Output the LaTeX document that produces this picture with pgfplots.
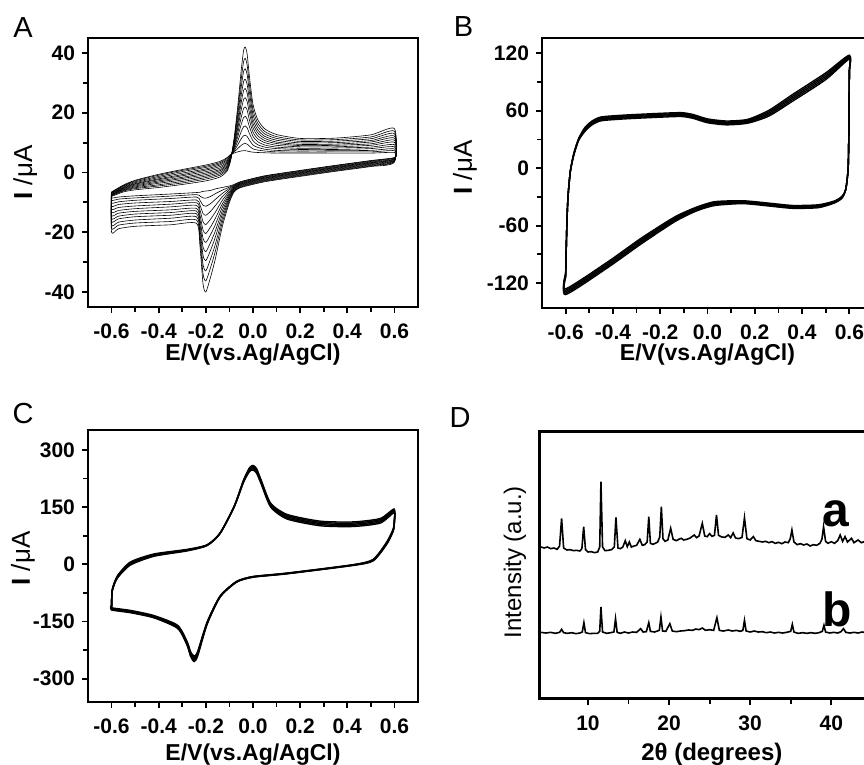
\documentclass[border=0pt]{standalone}
\usepackage{pgfplots}
\pgfplotsset{compat=1.18}
\usepackage{pgfplotstable}
\usepackage{fontspec}
\setmainfont{Liberation Sans}

% panel A: 12 successive cycles (columns c0..c11), forward then reverse scan
\pgfplotstableread{
E c0 c1 c2 c3 c4 c5 c6 c7 c8 c9 c10 c11
-0.600 -6.5 -6.6 -6.7 -6.9 -7.0 -7.1 -7.3 -7.4 -7.5 -7.7 -7.8 -8.0
-0.550 -4.2 -4.4 -4.5 -4.8 -5.0 -5.2 -5.4 -5.6 -5.8 -6.0 -6.2 -6.5
-0.500 -2.6 -2.8 -3.1 -3.4 -3.7 -3.9 -4.2 -4.5 -4.8 -5.1 -5.4 -5.8
-0.400 -0.6 -0.9 -1.3 -1.7 -2.1 -2.4 -2.8 -3.2 -3.6 -4.1 -4.5 -5.0
-0.300 1.0 0.7 0.3 -0.2 -0.7 -1.1 -1.6 -2.0 -2.5 -3.0 -3.5 -4.0
-0.200 2.5 2.1 1.7 1.2 0.8 0.3 -0.2 -0.7 -1.2 -1.7 -2.2 -2.8
-0.140 3.7 3.3 2.9 2.5 2.0 1.5 1.0 0.6 0.1 -0.4 -0.9 -1.5
-0.110 5.0 4.7 4.3 3.9 3.5 3.1 2.7 2.3 1.9 1.4 1.0 0.5
-0.095 6.0 5.9 5.7 5.5 5.3 5.2 5.0 4.8 4.6 4.4 4.2 4.0
-0.080 6.5 6.9 7.3 7.7 8.2 8.6 9.1 9.5 10.0 10.5 11.0 11.5
-0.065 6.9 8.0 9.2 10.5 11.9 13.2 14.6 15.9 17.3 18.8 20.3 21.9
-0.050 7.2 9.1 11.3 13.7 16.1 18.5 21.0 23.4 25.8 28.5 31.2 34.2
-0.040 7.3 9.6 12.3 15.3 18.4 21.4 24.4 27.4 30.4 33.8 37.1 40.8
-0.033 7.3 9.7 12.5 15.6 18.8 21.9 25.0 28.1 31.2 34.7 38.2 42.0
-0.025 7.2 9.5 12.1 15.0 17.9 20.9 23.8 26.7 29.6 32.9 36.1 39.7
-0.015 7.0 8.8 10.8 13.0 15.3 17.5 19.8 22.0 24.3 26.8 29.3 32.0
0.000 6.8 7.9 9.2 10.6 12.1 13.5 15.0 16.4 17.8 19.4 21.0 22.8
0.020 6.7 7.5 8.4 9.3 10.3 11.3 12.3 13.3 14.3 15.4 16.5 17.7
0.050 6.6 7.2 7.8 8.5 9.2 10.0 10.7 11.4 12.1 12.9 13.7 14.6
0.100 6.5 6.9 7.4 8.0 8.5 9.1 9.7 10.2 10.8 11.4 12.0 12.7
0.200 6.5 6.8 7.2 7.7 8.1 8.6 9.0 9.4 9.9 10.4 10.9 11.4
0.350 6.5 6.9 7.3 7.7 8.2 8.6 9.1 9.5 10.0 10.5 11.0 11.5
0.500 6.5 6.9 7.4 8.0 8.5 9.1 9.6 10.2 10.7 11.3 11.9 12.6
0.600 6.7 7.3 7.9 8.6 9.3 10.1 10.8 11.5 12.2 13.0 13.8 14.7
0.600 5.0 4.9 4.8 4.6 4.5 4.4 4.2 4.1 4.0 3.8 3.7 3.5
0.500 4.0 3.9 3.7 3.5 3.3 3.2 3.0 2.8 2.6 2.4 2.2 2.0
0.350 2.4 2.3 2.1 1.9 1.7 1.6 1.4 1.2 1.0 0.8 0.6 0.4
0.200 0.7 0.6 0.4 0.2 0.0 -0.1 -0.3 -0.5 -0.7 -0.9 -1.1 -1.3
0.050 -1.1 -1.2 -1.4 -1.6 -1.8 -1.9 -2.1 -2.3 -2.5 -2.7 -2.9 -3.1
-0.050 -3.0 -3.1 -3.3 -3.5 -3.7 -3.8 -4.0 -4.2 -4.4 -4.6 -4.8 -5.0
-0.080 -4.0 -4.2 -4.4 -4.6 -4.8 -5.1 -5.3 -5.5 -5.7 -6.0 -6.2 -6.5
-0.100 -4.5 -4.9 -5.3 -5.8 -6.3 -6.8 -7.3 -7.8 -8.3 -8.8 -9.4 -10.0
-0.130 -5.0 -5.9 -7.0 -8.1 -9.3 -10.5 -11.6 -12.8 -14.0 -15.3 -16.6 -18.0
-0.160 -5.5 -7.1 -9.0 -11.1 -13.3 -15.4 -17.5 -19.6 -21.7 -24.1 -26.4 -29.0
-0.180 -6.0 -8.0 -10.4 -13.0 -15.6 -18.2 -20.8 -23.4 -26.0 -28.9 -31.8 -35.0
-0.200 -6.2 -8.6 -11.3 -14.3 -17.4 -20.4 -23.4 -26.5 -29.5 -32.9 -36.3 -40.0
-0.212 -6.3 -8.5 -11.0 -13.7 -16.5 -19.3 -22.1 -24.9 -27.7 -30.8 -33.9 -37.3
-0.225 -6.6 -7.9 -9.3 -10.9 -12.5 -14.2 -15.8 -17.4 -19.0 -20.8 -22.6 -24.6
-0.240 -6.7 -7.4 -8.2 -9.2 -10.1 -11.0 -12.0 -12.9 -13.8 -14.8 -15.9 -17.0
-0.350 -7.2 -7.9 -8.7 -9.7 -10.6 -11.5 -12.5 -13.4 -14.3 -15.3 -16.4 -17.5
-0.500 -7.8 -8.5 -9.3 -10.2 -11.2 -12.1 -13.0 -13.9 -14.8 -15.9 -16.9 -18.0
-0.570 -8.2 -8.9 -9.8 -10.7 -11.7 -12.7 -13.6 -14.6 -15.5 -16.6 -17.6 -18.8
-0.600 -8.5 -9.3 -10.2 -11.3 -12.3 -13.3 -14.4 -15.4 -16.4 -17.6 -18.7 -20.0
-0.600 -6.5 -6.6 -6.7 -6.9 -7.0 -7.1 -7.3 -7.4 -7.5 -7.7 -7.8 -8.0
}\tabA

% panel B: five nearly overlapping cycles
\pgfplotstableread{
E c1 c2 c3 c4 c5
-0.600 -114 -113 -112 -111 -110
-0.595 -60 -60 -60 -60 -60
-0.590 -30 -30 -30 -30 -30
-0.580 -3 -3 -3 -3 -3
-0.565 14 14.5 15 15.5 16
-0.545 29 29.5 30 30.5 31
-0.520 38 39 40 41 42
-0.490 45 46 47 48 49
-0.450 49.5 50.5 51.5 52.5 53.5
-0.350 51.5 52.5 53.5 54.5 55.5
-0.200 53.3 54.3 55.3 56.3 57.3
-0.110 54 55 56 57 58
-0.060 52 53 54 55 56
0.000 47.5 48.5 49.5 50.5 51.5
0.080 45.3 46.3 47.3 48.3 49.3
0.170 47 48 49 50 51
0.260 54.5 56 57.5 59 60.5
0.360 70 71.75 73.5 75.25 77
0.500 92.5 94.25 96 97.75 99.5
0.600 114 115 116 117 118
0.600 100 100 100 100 100
0.598 40 40 40 40 40
0.595 0 0 0 0 0
0.585 -22 -22 -22 -22 -22
0.570 -31 -30.5 -30 -29.5 -29
0.540 -36 -35.5 -35 -34.5 -34
0.470 -41.2 -40.45 -39.7 -38.95 -38.2
0.360 -41.9 -41.15 -40.4 -39.65 -38.9
0.260 -39.5 -38.75 -38 -37.25 -36.5
0.150 -37 -36.25 -35.5 -34.75 -34
0.030 -39 -38 -37 -36 -35
-0.050 -45 -44 -43 -42 -41
-0.140 -56.1 -54.85 -53.6 -52.35 -51.1
-0.280 -79 -77.5 -76 -74.5 -73
-0.420 -103.5 -102 -100.5 -99 -97.5
-0.600 -132 -130.5 -129 -127.5 -126
-0.600 -114 -113 -112 -111 -110
}\tabB

% panel C
\pgfplotstableread{
E c1 c2 c3 c4 c5
-0.600 -114 -112.5 -111 -109.5 -108
-0.597 -70 -69 -68 -67 -66
-0.575 -36 -34.5 -33 -31.5 -30
-0.520 -2 0 2 4 6
-0.420 21 22.5 24 25.5 27
-0.280 35 36 37 38 39
-0.195 49 49.5 50 50.5 51
-0.140 80 80.5 81 81.5 82
-0.080 150 150.5 151 151.5 152
-0.040 215 216.5 218 219.5 221
-0.015 243 245.5 248 250.5 253
0.000 247 250 253 256 259
0.015 239 242 245 248 251
0.035 210 212.5 215 217.5 220
0.075 150 152.5 155 157.5 160
0.145 118.5 121.5 124.5 127.5 130.5
0.285 101 104 107 110 113
0.425 99 102 105 108 111
0.540 108 111 114 117 120
0.598 135 137.5 140 142.5 145
0.600 112 113.5 115 116.5 118
0.595 87 88.5 90 91.5 93
0.567 52 53.5 55 56.5 58
0.510 9 10 11 12 13
0.425 -3 -2.5 -2 -1.5 -1
0.145 -25 -24.5 -24 -23.5 -23
0.000 -34 -33.5 -33 -32.5 -32
-0.070 -47 -46.5 -46 -45.5 -45
-0.140 -86.5 -85.75 -85 -84.25 -83.5
-0.195 -158 -156.5 -155 -153.5 -152
-0.235 -241 -238 -235 -232 -229
-0.250 -255 -251.5 -248 -244.5 -241
-0.265 -241 -238 -235 -232 -229
-0.280 -212 -209.5 -207 -204.5 -202
-0.320 -168 -166 -164 -162 -160
-0.420 -140.5 -139 -137.5 -136 -134.5
-0.520 -127 -125.5 -124 -122.5 -121
-0.600 -120 -118.5 -117 -115.5 -114
-0.600 -114 -112.5 -111 -109.5 -108
}\tabC

% panel D: XRD patterns (arbitrary units)
\pgfplotstableread{
t I
4.2 455
4.6 452
5.0 455
5.4 450
5.8 452
6.2 448
6.5 458
6.75 541
7.0 452
7.4 446
7.8 447
8.2 444
8.6 445
9.0 443
9.25 450
9.47 516
9.7 447
10.0 440
10.4 441
10.8 438
11.2 440
11.45 455
11.6 651
11.8 455
12.1 444
12.5 445
12.9 447
13.25 455
13.45 544
13.7 452
14.0 450
14.3 455
14.6 474
14.85 456
15.1 470
15.35 455
15.7 458
16.0 460
16.4 478
16.7 460
17.0 462
17.3 470
17.5 546
17.7 466
18.0 463
18.3 466
18.6 470
18.85 485
19.05 576
19.25 480
19.5 472
19.85 476
20.2 511
20.5 478
20.9 474
21.2 478
21.5 481
21.8 476
22.2 478
22.6 482
23.1 491
23.4 483
23.7 488
24.1 526
24.4 488
24.7 486
25.0 495
25.3 487
25.6 490
25.85 551
26.1 490
26.5 485
26.9 484
27.3 491
27.6 483
27.9 497
28.2 482
28.6 480
29.0 484
29.3 543
29.6 480
30.0 476
30.4 486
30.7 474
31.1 472
31.5 470
31.9 472
32.3 468
32.7 471
33.1 466
33.5 469
33.9 465
34.3 470
34.7 468
34.95 480
35.15 506
35.4 470
35.8 462
36.2 465
36.6 461
37.0 464
37.4 458
37.8 462
38.2 460
38.6 466
38.85 478
39.05 516
39.3 472
39.6 466
40.0 471
40.4 466
40.8 474
41.1 491
41.4 472
41.7 486
42.0 470
42.5 481
42.8 468
43.3 476
43.7 468
44.2 472
44.8 470
45.0 471
}\xrdA

\pgfplotstableread{
t I
4.2 199
4.8 197
5.4 199
6.0 196
6.5 199
6.75 208
7.0 198
7.5 196
8.0 198
8.5 195
9.0 197
9.3 200
9.5 228
9.7 198
10.2 195
10.7 196
11.2 196
11.45 202
11.6 275
11.8 200
12.3 196
12.8 198
13.2 200
13.4 240
13.6 199
14.0 196
14.5 200
15.0 197
15.5 200
16.0 199
16.5 210
16.8 200
17.2 201
17.5 228
17.7 202
18.2 200
18.8 205
19.0 245
19.2 203
19.6 202
20.1 225
20.4 203
20.9 201
21.4 203
21.9 204
22.4 206
22.9 205
23.3 209
23.7 207
24.1 212
24.5 205
25.0 207
25.5 205
25.9 243
26.2 205
26.7 203
27.3 206
27.8 203
28.3 205
28.8 202
29.1 205
29.3 235
29.5 203
30.0 200
30.5 203
31.0 200
31.5 201
32.0 198
32.5 200
33.0 197
33.5 199
34.0 197
34.5 199
35.0 202
35.2 223
35.4 200
35.9 196
36.5 198
37.0 196
37.5 198
38.0 196
38.5 198
38.9 202
39.1 220
39.3 200
39.8 197
40.3 199
40.8 197
41.2 201
41.5 210
41.8 199
42.3 197
42.8 199
43.3 197
43.8 200
44.3 198
45.0 199
}\xrdB

\pgfplotsset{
  panel/.style={
    scale only axis, anchor=south west,
    axis line style={line width=1.3pt},
    tick pos=left, tick align=outside,
    major tick length=3pt, minor tick length=2.5pt,
    tick style={line width=0.9pt, black},
    /pgf/number format/assume math mode=true,
    ticklabel style={font=\fontsize{10.5}{12}\selectfont\bfseries},
    xticklabel style={yshift=-2pt},
    label style={font=\fontsize{11.5}{13}\selectfont},
  },
  cv/.style={panel, xmin=-0.7, xmax=0.7,
    xtick={-0.6,-0.4,-0.2,0,0.2,0.4,0.6}, minor x tick num=1, minor y tick num=1,
    xticklabel style={/pgf/number format/fixed, /pgf/number format/fixed zerofill,
      /pgf/number format/precision=1},
    xlabel={\bfseries E/V(vs.Ag/AgCl)},
    ylabel={\fontsize{13}{15}\selectfont{\bfseries I} /μA},
  },
}

\begin{document}
\raisebox{0pt}[382.5pt][0pt]{%
\begin{tikzpicture}[baseline=0pt, trim left=0pt, trim right=432pt]
\clip (0,0) rectangle (432pt,382.5pt);

\begin{axis}[cv, at={(44pt,229pt)}, width=165pt, height=134.5pt,
  ymin=-45, ymax=45, ytick={-40,-20,0,20,40},
  xlabel style={at={(axis description cs:0.5,-0.178)}, anchor=center},
  ylabel style={at={(axis description cs:-0.19,0.5)}, anchor=center}]
\pgfplotsinvokeforeach{c0,c1,c2,c3,c4,c5,c6,c7,c8,c9,c10,c11}{
  \addplot[black, line width=0.3pt, smooth, tension=0.4] table[x=E, y=#1] {\tabA};
}
\end{axis}

\begin{axis}[cv, at={(271pt,228.5pt)}, width=165.5pt, height=135pt,
  ymin=-146, ymax=136, ytick={-120,-60,0,60,120},
  xlabel style={at={(axis description cs:0.5,-0.174)}, anchor=center},
  ylabel style={at={(axis description cs:-0.233,0.52)}, anchor=center}]
\pgfplotsinvokeforeach{c1,c2,c3,c4,c5}{
  \addplot[black, line width=0.7pt, smooth, tension=0.4] table[x=E, y=#1] {\tabB};
}
\end{axis}

\begin{axis}[cv, at={(44pt,31.5pt)}, width=165pt, height=136pt,
  ymin=-361, ymax=352, ytick={-300,-150,0,150,300},
  xlabel style={at={(axis description cs:0.5,-0.195)}, anchor=center},
  ylabel style={at={(axis description cs:-0.197,0.527)}, anchor=center}]
\pgfplotsinvokeforeach{c1,c2,c3,c4,c5}{
  \addplot[black, line width=0.7pt, smooth, tension=0.4] table[x=E, y=#1] {\tabC};
}
\end{axis}

\begin{axis}[panel, at={(269.65pt,33.15pt)}, width=166.25pt, height=133.7pt,
  xmin=4, xmax=45, ymin=0, ymax=802,
  xtick={10,20,30,40}, minor x tick num=1, ytick=\empty,
  xlabel={\bfseries 2θ (degrees)}, ylabel={Intensity (a.u.)},
  label style={font=\fontsize{12}{14}\selectfont},
  xlabel style={at={(axis description cs:0.519,-0.21)}, anchor=center},
  ylabel style={at={(axis description cs:-0.073,0.51)}, anchor=center}]
\addplot[black, line width=0.8pt] table[x=t, y=I] {\xrdA};
\addplot[black, line width=0.8pt] table[x=t, y=I] {\xrdB};
\node[anchor=base, font=\fontsize{24}{26}\selectfont\bfseries] at (axis cs:40.6,517) {a};
\node[anchor=base, font=\fontsize{24}{26}\selectfont\bfseries] at (axis cs:40.7,217) {b};
\end{axis}

\node[font=\fontsize{14.5}{16}\selectfont] at (11.5pt,368.5pt) {A};
\node[font=\fontsize{14.5}{16}\selectfont] at (231.75pt,369pt) {B};
\node[font=\fontsize{14.5}{16}\selectfont] at (11.5pt,175.5pt) {C};
\node[font=\fontsize{14.5}{16}\selectfont] at (230pt,173.5pt) {D};
\end{tikzpicture}}
\end{document}
